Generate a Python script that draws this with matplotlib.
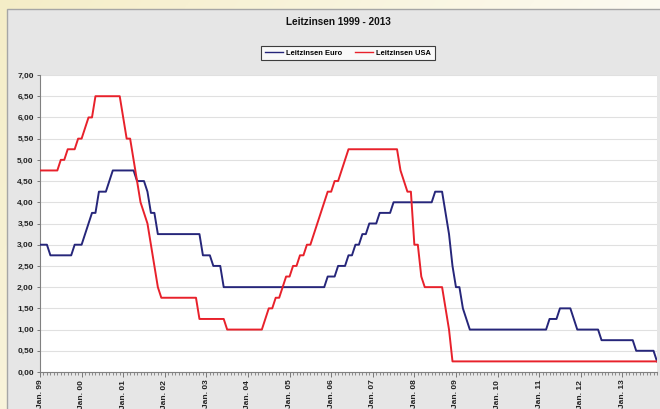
import numpy as np
import matplotlib
matplotlib.use("Agg")
import matplotlib.pyplot as plt
from matplotlib.patches import Rectangle
from matplotlib.ticker import FuncFormatter, MultipleLocator

plt.rcParams['font.family'] = ['Liberation Sans', 'DejaVu Sans']

title = "Leitzinsen 1999 - 2013"
series_names = ["Leitzinsen Euro", "Leitzinsen USA"]
tick_labels = ["Jan. 99", "Jan. 00", "Jan. 01", "Jan. 02", "Jan. 03", "Jan. 04", "Jan. 05",
               "Jan. 06", "Jan. 07", "Jan. 08", "Jan. 09", "Jan. 10", "Jan. 11", "Jan. 12", "Jan. 13"]

# monthly values, Jan 1999 .. Nov 2013
euro = (
    [3.0, 3.0, 3.0, 2.75, 2.75, 2.75, 2.75, 2.75, 2.75, 2.75, 3.0, 3.0] +              # 1999
    [3.0, 3.25, 3.5, 3.75, 3.75, 4.25, 4.25, 4.25, 4.5, 4.75, 4.75, 4.75] +            # 2000
    [4.75, 4.75, 4.75, 4.75, 4.5, 4.5, 4.5, 4.25, 3.75, 3.75, 3.25, 3.25] +            # 2001
    [3.25] * 11 + [2.75] +                                                              # 2002
    [2.75, 2.75, 2.5, 2.5, 2.5, 2.0, 2.0, 2.0, 2.0, 2.0, 2.0, 2.0] +                    # 2003
    [2.0] * 12 +                                                                        # 2004
    [2.0] * 11 + [2.25] +                                                               # 2005
    [2.25, 2.25, 2.5, 2.5, 2.5, 2.75, 2.75, 3.0, 3.0, 3.25, 3.25, 3.5] +                # 2006
    [3.5, 3.5, 3.75, 3.75, 3.75, 3.75, 4.0, 4.0, 4.0, 4.0, 4.0, 4.0] +                  # 2007
    [4.0, 4.0, 4.0, 4.0, 4.0, 4.0, 4.25, 4.25, 4.25, 3.75, 3.25, 2.5] +                 # 2008
    [2.0, 2.0, 1.5, 1.25, 1.0, 1.0, 1.0, 1.0, 1.0, 1.0, 1.0, 1.0] +                     # 2009
    [1.0] * 12 +                                                                        # 2010
    [1.0, 1.0, 1.0, 1.25, 1.25, 1.25, 1.5, 1.5, 1.5, 1.5, 1.25, 1.0] +                  # 2011
    [1.0, 1.0, 1.0, 1.0, 1.0, 1.0, 0.75, 0.75, 0.75, 0.75, 0.75, 0.75] +                # 2012
    [0.75, 0.75, 0.75, 0.75, 0.5, 0.5, 0.5, 0.5, 0.5, 0.5, 0.25]                        # 2013
)
usa = (
    [4.75, 4.75, 4.75, 4.75, 4.75, 4.75, 5.0, 5.0, 5.25, 5.25, 5.25, 5.5] +             # 1999
    [5.5, 5.75, 6.0, 6.0, 6.5, 6.5, 6.5, 6.5, 6.5, 6.5, 6.5, 6.5] +                     # 2000
    [6.0, 5.5, 5.5, 5.0, 4.5, 4.0, 3.75, 3.5, 3.0, 2.5, 2.0, 1.75] +                    # 2001
    [1.75] * 10 + [1.25, 1.25] +                                                        # 2002
    [1.25, 1.25, 1.25, 1.25, 1.25, 1.25, 1.0, 1.0, 1.0, 1.0, 1.0, 1.0] +                # 2003
    [1.0, 1.0, 1.0, 1.0, 1.0, 1.25, 1.5, 1.5, 1.75, 1.75, 2.0, 2.25] +                  # 2004
    [2.25, 2.5, 2.5, 2.75, 2.75, 3.0, 3.0, 3.25, 3.5, 3.75, 4.0, 4.25] +                # 2005
    [4.25, 4.5, 4.5, 4.75, 5.0, 5.25, 5.25, 5.25, 5.25, 5.25, 5.25, 5.25] +             # 2006
    [5.25, 5.25, 5.25, 5.25, 5.25, 5.25, 5.25, 5.25, 4.75, 4.5, 4.25, 4.25] +           # 2007
    [3.0, 3.0, 2.25, 2.0, 2.0, 2.0, 2.0, 2.0, 2.0, 1.5, 1.0, 0.25] +                    # 2008
    [0.25] * 12 * 4 +                                                                   # 2009-2012
    [0.25] * 11                                                                         # 2013
)

months = np.arange(len(euro))

W, H = 660, 409
fig = plt.figure(figsize=(W / 100, H / 100), dpi=100)

# background: yellowish gradient + gray chart panel
bg = fig.add_axes([0, 0, 1, 1], zorder=-10)
grad = np.linspace(0, 1, 256)
gx, gy = np.meshgrid(grad, grad)
t = np.clip(0.75 * gx + 0.35 * (gy), 0, 1)
c0 = np.array([0.96, 0.93, 0.78])
c1 = np.array([1.0, 1.0, 1.0])
img = c0[None, None, :] * (1 - t[..., None]) + c1[None, None, :] * t[..., None]
bg.imshow(img, extent=[0, 1, 0, 1], aspect='auto', origin='upper')
bg.add_patch(Rectangle((7 / W, -0.01), 1, (H - 9.5) / H + 0.01, facecolor='#e6e6e6',
                       edgecolor='#a6a6a6', linewidth=1.0))
bg.set_xlim(0, 1)
bg.set_ylim(0, 1)
bg.axis('off')

left, right, top, bottom = 40, 657, 75, 372
ax = fig.add_axes([left / W, (H - bottom) / H, (right - left) / W, (bottom - top) / H])
ax.set_facecolor('white')

ax.plot(months, euro, color='#26267a', lw=1.4, label=series_names[0], zorder=3)
ax.plot(months, usa, color='#e8212b', lw=1.4, label=series_names[1], zorder=3)

ax.set_xlim(0, len(euro) - 1)
ax.set_ylim(0, 7)
ax.yaxis.set_major_locator(MultipleLocator(0.5))
ax.yaxis.set_major_formatter(FuncFormatter(lambda v, p: f"{v:.2f}".replace('.', ',')))
ax.set_xticks(np.arange(0, 12 * len(tick_labels), 12))
ax.set_xticklabels(tick_labels, rotation=90, fontsize=6, fontweight='bold', color='#222222')
ax.set_xticks(months, minor=True)
ax.tick_params(axis='x', which='major', length=3.5, width=0.6, color='#666666', pad=2)
ax.tick_params(axis='x', which='minor', length=2, width=0.5, color='#666666')
ax.tick_params(axis='y', length=2.5, width=0.6, color='#666666', pad=2,
               labelsize=6, labelcolor='#222222')
for lab in ax.get_yticklabels():
    lab.set_fontweight('bold')
ax.grid(axis='y', color='#e0e0e0', lw=0.8)
ax.set_axisbelow(True)
for s in ['top', 'right']:
    ax.spines[s].set_visible(False)
for s in ['left', 'bottom']:
    ax.spines[s].set_color('#808080')
    ax.spines[s].set_linewidth(0.8)

fig.text(338 / W, 1 - 22 / H, title, ha='center', va='center', fontsize=7.2,
         fontweight='bold', color='#111111')

leg = fig.legend(loc='center', bbox_to_anchor=(348 / W, 1 - 53 / H), ncol=2,
                 frameon=True, fancybox=False, handlelength=2.4,
                 columnspacing=1.6, handletextpad=0.5, borderpad=0.45,
                 prop={'weight': 'bold', 'size': 5.4})
leg.get_frame().set_edgecolor('#111111')
leg.get_frame().set_linewidth(0.8)
for l in leg.get_lines():
    l.set_linewidth(1.0)

fig.savefig('out.png', dpi=100)
